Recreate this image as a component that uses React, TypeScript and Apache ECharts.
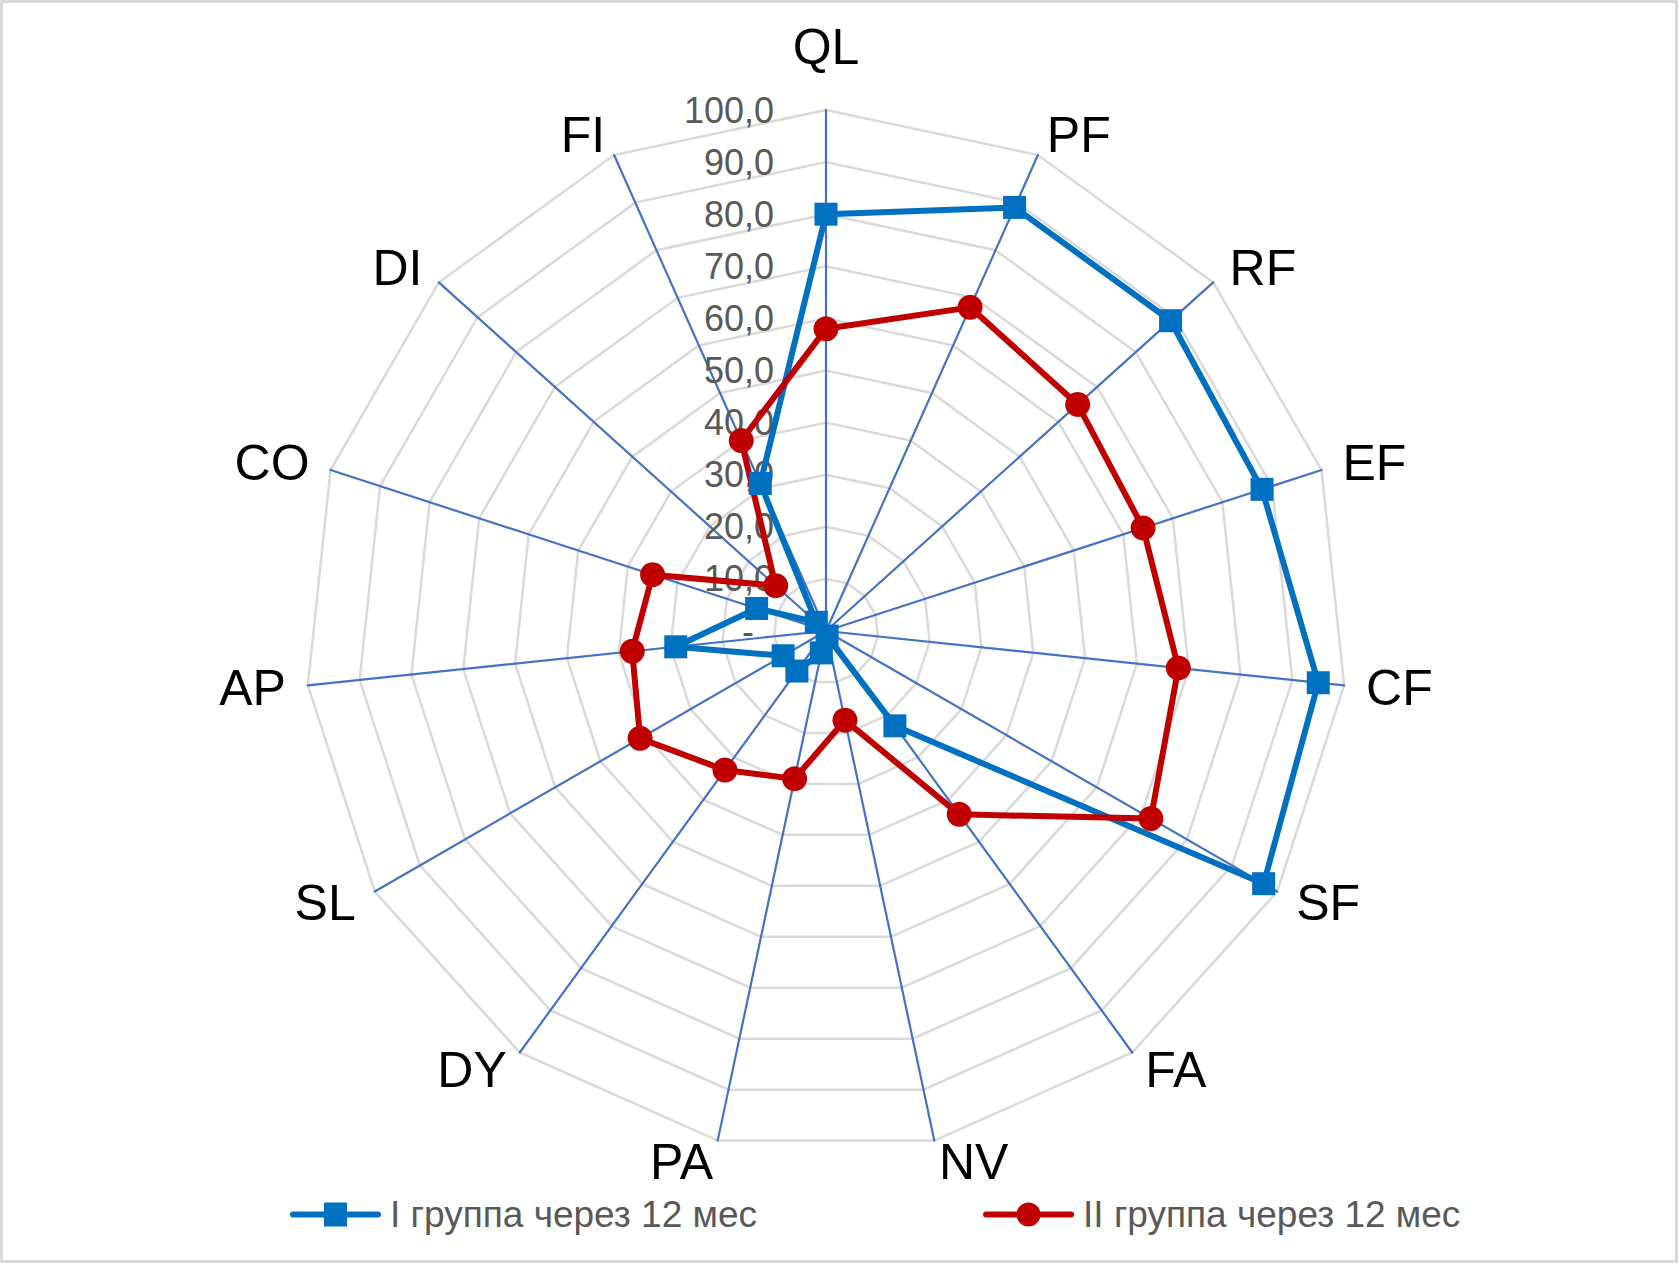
import React, { useEffect, useRef } from "react";
import * as echarts from "echarts";

// Categories in clockwise order starting from the top
const categories = ["QL", "PF", "RF", "EF", "CF", "SF", "FA", "NV", "PA", "DY", "SL", "AP", "CO", "DI", "FI"];
const group1Name = "I группа через 12 мес";
const group2Name = "II группа через 12 мес";
const group1Values = [80, 89, 89, 88, 95, 97, 22.5, 1, 4.3, 9.5, 9.5, 29, 14, 2.5, 31];
const group2Values = [58, 68, 65, 64, 68, 72, 43.5, 17.5, 29, 33, 41.2, 37.4, 35, 13, 40];
const axisMin = 0;
const axisMax = 100;
const axisSplits = 10;

const BLUE = "#0070c0";
const RED = "#c00000";
const NAME_FONT = "'Liberation Sans', Arial, sans-serif";
const TEXT_FONT = "'Liberation Sans', Arial, sans-serif";

// ECharts radar runs counter-clockwise, so reorder (keep first at the top)
const order = categories.map((_, i) => (i === 0 ? 0 : categories.length - i));

const fmtTick = (v: number) => (v === 0 ? "{dash|-}" : v.toFixed(1).replace(".", ","));

const blueIcon =
  "path://M3,9 L88,9 A3,3 0 0 1 88,15 L3,15 A3,3 0 0 1 3,9 Z M34,0 L57,0 L57,24 L34,24 Z";
const redIcon =
  "path://M3,9 L88,9 A3,3 0 0 1 88,15 L3,15 A3,3 0 0 1 3,9 Z M33.5,12 A12,12 0 1 1 57.5,12 A12,12 0 1 1 33.5,12 Z";

export default function App() {
  const ref = useRef<HTMLDivElement>(null);
  useEffect(() => {
    document.body.style.margin = "0";
    if (!ref.current) return;
    const chart = echarts.init(ref.current, undefined, { renderer: "svg" });
    const indicator = order.map((i) => {
      const base: any = { name: categories[i], min: axisMin, max: axisMax };
      if (i === 0) {
        base.axisLabel = {
          show: true,
          color: "#595959",
          fontSize: 36,
          fontFamily: TEXT_FONT,
          margin: 52,
          formatter: fmtTick,
          rich: { dash: { fontSize: 36, color: "#595959", padding: [0, 20, 0, 0] } },
        };
      }
      return base;
    });
    chart.setOption({
      animation: false,
      backgroundColor: "#ffffff",
      graphic: [
        {
          type: "rect",
          z: -10,
          silent: true,
          shape: { x: 1.5, y: 1.5, width: 1675, height: 1260 },
          style: { fill: "#ffffff", stroke: "#d9d9d9", lineWidth: 3 },
        },
      ],
      legend: {
        left: 285,
        top: 1191,
        itemWidth: 91,
        itemHeight: 24,
        itemGap: 226,
        textStyle: { color: "#595959", fontSize: 37, fontFamily: TEXT_FONT, padding: [0, 0, 0, 4] },
        data: [
          { name: group1Name, icon: blueIcon, itemStyle: { color: BLUE, borderWidth: 0 } },
          { name: group2Name, icon: redIcon, itemStyle: { color: RED, borderWidth: 0 } },
        ],
      },
      radar: {
        center: [826, 631],
        radius: 521,
        startAngle: 90,
        shape: "polygon",
        splitNumber: axisSplits,
        nameGap: 22,
        indicator,
        axisName: {
          color: "#000000",
          fontSize: 50,
          fontFamily: NAME_FONT,
          formatter: (name: string) => (name === "QL" ? `{top|${name}}` : name),
          rich: { top: { fontSize: 50, fontFamily: NAME_FONT, color: "#000", padding: [0, 0, 16, 0] } },
        },
        splitLine: { lineStyle: { color: "#d9d9d9", width: 2.5 } },
        splitArea: { show: false },
        axisLine: { lineStyle: { color: "#4472c4", width: 2.2 } },
        axisTick: { show: false },
        axisLabel: { show: false },
      },
      series: [
        {
          type: "radar",
          data: [
            {
              name: group1Name,
              value: order.map((i) => group1Values[i]),
              symbol: "rect",
              symbolSize: 23,
              itemStyle: { color: BLUE },
              lineStyle: { color: BLUE, width: 6, join: "round" },
            },
            {
              name: group2Name,
              value: order.map((i) => group2Values[i]),
              symbol: "circle",
              symbolSize: 25,
              itemStyle: { color: RED },
              lineStyle: { color: RED, width: 6, join: "round" },
            },
          ],
        },
      ],
    });
    return () => chart.dispose();
  }, []);
  return <div ref={ref} style={{ width: 1678, height: 1263 }} />;
}
